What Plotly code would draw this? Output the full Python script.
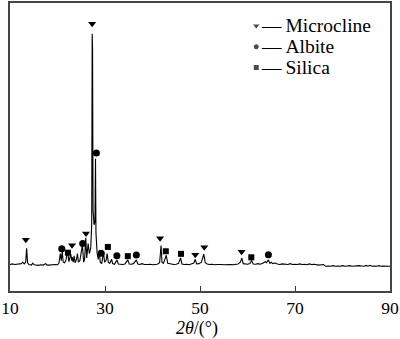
import plotly.graph_objects as go

# XRD pattern: diffraction angle 2θ (°) and intensity (a.u.)
two_theta = [
    10.0, 10.5, 11.0, 11.5, 12.0, 12.4, 12.7, 13.0, 13.3, 13.5, 13.7, 14.0, 14.5, 14.8, 15.1,
    15.5, 16.0, 16.5, 17.0, 17.5, 17.8, 18.2, 18.6, 19.0, 19.5, 20.0, 20.3, 20.6, 20.8, 21.0,
    21.2, 21.5, 21.8, 22.1, 22.4, 22.8, 23.0, 23.1, 23.3, 23.5, 23.7, 24.0, 24.2, 24.4, 24.7,
    25.25, 25.5, 25.7, 25.95, 26.15, 26.45, 26.7, 27.0, 27.2, 27.3, 27.38, 27.48, 27.7, 27.88,
    28.0, 28.1, 28.35, 28.6, 28.8, 29.0, 29.3, 29.7, 29.9, 30.2, 30.45, 30.7, 31.0, 31.4,
    31.6, 32.0, 32.5, 32.8, 33.2, 33.7, 34.2, 34.8, 35.1, 35.5, 36.0, 36.6, 36.9, 37.3, 37.8,
    38.3, 39.0, 39.5, 40.0, 40.5, 41.0, 41.5, 41.8, 42.0, 42.3, 42.6, 42.9, 43.2, 43.6, 44.0,
    44.5, 45.0, 45.5, 45.9, 46.2, 46.7, 47.2, 47.7, 48.2, 48.7, 49.0, 49.3, 49.8, 50.3, 50.8,
    51.1, 51.5, 52.0, 52.5, 53.0, 53.5, 54.0, 54.5, 55.0, 55.5, 56.0, 56.5, 57.0, 57.5, 58.0,
    58.5, 58.8, 59.1, 59.5, 60.0, 60.5, 60.85, 61.2, 61.7, 62.2, 62.7, 63.3, 63.7, 64.0, 64.4,
    64.7, 65.0, 65.3, 65.8, 66.3, 66.8, 67.3, 67.8, 68.5, 69.0, 69.5, 70.0, 70.5, 71.0, 71.5,
    72.0, 72.5, 73.0, 73.5, 74.0, 74.5, 75.0, 76.0, 76.4, 77.0, 77.5, 78.0, 78.5, 79.0, 79.5,
    80.0, 80.5, 81.0, 81.5, 82.0, 82.5, 83.0, 83.5, 84.0, 84.5, 85.0, 85.3, 85.8, 86.2, 86.7,
    87.2, 87.7, 88.0, 88.5, 89.0, 89.5, 90.0,
]
intensity = [
    92, 94, 92, 93, 92, 95, 100, 94, 100, 148, 98, 92, 90, 97, 91,
    90, 89, 91, 90, 95, 90, 90, 91, 90, 92, 91, 96, 130, 105, 138,
    100, 98, 108, 140, 102, 128, 105, 118, 100, 122, 98, 110, 130, 100, 105,
    160, 100, 110, 185, 115, 165, 130, 150, 230, 893, 840, 280, 230, 240,
    459, 200, 130, 110, 140, 100, 95, 135, 100, 105, 130, 100, 96, 110,
    95, 93, 108, 94, 93, 92, 94, 108, 94, 93, 95, 108, 94, 92, 95,
    92, 92, 93, 91, 92, 93, 98, 158, 100, 96, 110, 124, 96, 94, 92,
    92, 93, 96, 115, 94, 92, 93, 91, 93, 97, 110, 94, 95, 100, 128,
    98, 94, 92, 93, 91, 92, 93, 92, 91, 92, 93, 92, 91, 92, 94,
    100, 114, 95, 93, 93, 95, 106, 94, 93, 95, 93, 97, 102, 98, 108,
    96, 100, 95, 97, 94, 92, 94, 93, 92, 95, 92, 93, 92, 94, 92,
    93, 91, 94, 92, 93, 91, 90, 92, 86, 87, 86, 88, 86, 87, 86,
    88, 86, 87, 88, 86, 87, 86, 88, 87, 86, 89, 86, 89, 86, 87,
    86, 88, 86, 87, 86, 87, 86,
]

# Phase identification symbols (2θ, intensity level of the symbol)
microcline_x = [13.33, 23.06, 26.0, 27.3, 41.6, 49.0, 50.9, 58.75]
microcline_y = [178, 159, 200, 928, 183, 126, 152, 136]
albite_x = [20.9, 25.3, 28.19, 29.2, 32.5, 36.6, 64.4]
albite_y = [147, 165, 479, 131, 122, 125, 126]
silica_x = [22.2, 30.6, 34.8, 42.8, 46.0, 60.8]
silica_y = [133, 153, 121, 138, 129, 117]

phase_names = ["Microcline", "Albite", "Silica"]
phase_symbols = ["triangle-down", "circle", "square"]
phase_sizes = [7, 7, 6]

tick_vals = [10, 30, 50, 70, 90]
tick_text = ["10", "30", "50", "70", "90"]

serif = "Liberation Serif, Times New Roman, serif"
FS = 17.5

fig = go.Figure()
fig.add_trace(go.Scatter(
    x=two_theta, y=intensity, mode="lines",
    line=dict(color="black", width=1.1), showlegend=False, hoverinfo="skip",
))
for name, sym, size, xs, ys in zip(
    phase_names, phase_symbols, phase_sizes,
    [microcline_x, albite_x, silica_x], [microcline_y, albite_y, silica_y],
):
    fig.add_trace(go.Scatter(
        x=xs, y=ys, mode="markers", name=name, showlegend=False,
        marker=dict(symbol=sym, size=size, color="black"),
    ))

# Key: symbols on an overlay axis spanning the plot area, labels as annotations
key_x = 0.648
key_rows = [0.921, 0.848, 0.776]
fig.add_trace(go.Scatter(
    x=[key_x] * 3, y=key_rows, mode="markers", xaxis="x2", yaxis="y2",
    showlegend=False, hoverinfo="skip",
    marker=dict(symbol=phase_symbols, size=[7, 6, 6], color="black"),
))
for name, ky in zip(phase_names, key_rows):
    fig.add_annotation(
        x=key_x + 0.008, y=ky, xref="x2", yref="y2", xanchor="left", yanchor="middle",
        text="—\u2009" + name, showarrow=False,
        font=dict(family=serif, size=19.5, color="black"),
    )

# Axis title
fig.add_annotation(
    x=0.492, y=-0.13, xref="paper", yref="paper", xanchor="center", yanchor="middle",
    text="<i>2θ</i>/(°)", showarrow=False,
    font=dict(family=serif, size=18, color="black"),
)

fig.update_layout(
    width=400, height=339,
    margin=dict(l=7, r=9, t=1, b=48),
    paper_bgcolor="white", plot_bgcolor="white",
    font=dict(family=serif, size=FS, color="black"),
    showlegend=False,
    xaxis=dict(
        range=[10, 90], tickvals=tick_vals, ticktext=tick_text,
        ticks="inside", ticklen=5, tickwidth=1.2, tickcolor="#333",
        showline=True, linecolor="#444", linewidth=1.5, mirror=True,
        showgrid=False, zeroline=False, ticklabeloverflow="allow",
        tickfont=dict(family=serif, size=FS, color="black"),
    ),
    yaxis=dict(
        range=[0, 1000], showticklabels=False, ticks="",
        showline=True, linecolor="#444", linewidth=1.5, mirror=True,
        showgrid=False, zeroline=False,
    ),
    xaxis2=dict(range=[0, 1], overlaying="x", visible=False),
    yaxis2=dict(range=[0, 1], overlaying="y", visible=False),
)

fig.write_html("out.html")
